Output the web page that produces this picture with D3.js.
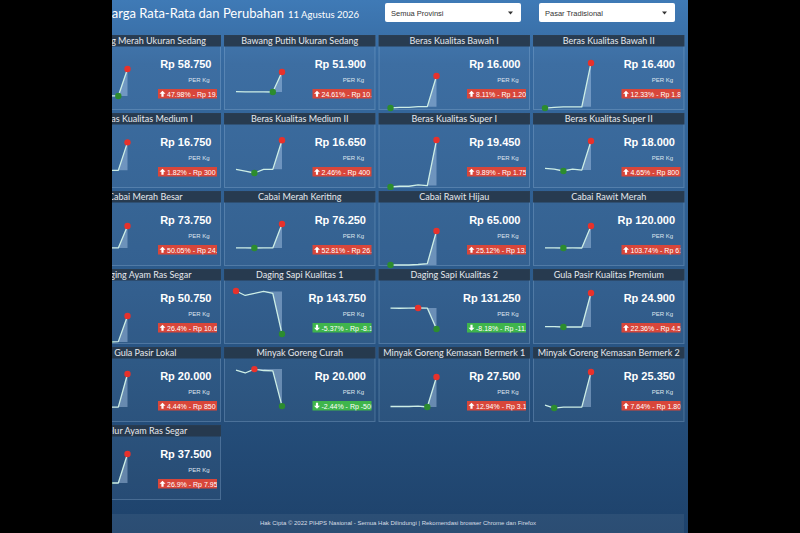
<!DOCTYPE html>
<html>
<head>
<meta charset="utf-8">
<script src="https://cdn.jsdelivr.net/npm/d3@7"></script>
<style>
  html, body { margin: 0; padding: 0; background: #000; }
  svg { display: block; }
</style>
</head>
<body>
<div class="canvas"></div>
<script>
// commodity names, in grid order
const names = [
  'Bawang Merah Ukuran Sedang', 'Bawang Putih Ukuran Sedang', 'Beras Kualitas Bawah I', 'Beras Kualitas Bawah II',
  'Beras Kualitas Medium I', 'Beras Kualitas Medium II', 'Beras Kualitas Super I', 'Beras Kualitas Super II',
  'Cabai Merah Besar', 'Cabai Merah Keriting', 'Cabai Rawit Hijau', 'Cabai Rawit Merah',
  'Daging Ayam Ras Segar', 'Daging Sapi Kualitas 1', 'Daging Sapi Kualitas 2', 'Gula Pasir Kualitas Premium',
  'Gula Pasir Lokal', 'Minyak Goreng Curah', 'Minyak Goreng Kemasan Bermerk 1', 'Minyak Goreng Kemasan Bermerk 2',
  'Telur Ayam Ras Segar'
];

// current price (Rp per Kg)
const prices = [58750, 51900, 16000, 16400, 16750, 16650, 19450, 18000, 73750, 76250, 65000, 120000,
  50750, 143750, 131250, 24900, 20000, 20000, 27500, 25350, 37500];

// change vs previous, percent and rupiah
const changePct = [47.98, 24.61, 8.11, 12.33, 1.82, 2.46, 9.89, 4.65, 50.05, 52.81, 25.12, 103.74,
  26.4, -5.37, -8.18, 22.36, 4.44, -2.44, 12.94, 7.64, 26.9];
const changeRp = [19050, 10250, 1200, 1800, 300, 400, 1750, 800, 24600, 26350, 13050, 61100,
  10600, -8150, -11700, 4550, 850, -500, 3150, 1800, 7950];

// sparkline history, last value = current price
const series = [
  [40000, 39900, 39800, 39750, 39700, 58750],
  [41800, 41750, 41700, 41700, 41650, 51900],
  [14750, 14775, 14775, 14800, 14800, 16000],
  [14550, 14575, 14600, 14600, 14600, 16400],
  [16400, 16450, 16450, 16450, 16450, 16750],
  [16250, 16225, 16200, 16250, 16250, 16650],
  [17650, 17675, 17675, 17725, 17700, 19450],
  [17250, 17225, 17175, 17225, 17200, 18000],
  [49100, 49150, 49150, 49150, 49150, 73750],
  [50000, 49950, 49850, 49950, 49900, 76250],
  [51400, 51450, 51400, 51600, 51950, 65000],
  [59000, 58950, 58850, 58950, 58900, 120000],
  [40100, 40050, 40050, 40000, 40150, 50750],
  [152400, 151500, 151900, 152300, 151900, 143750],
  [142900, 142850, 142900, 143000, 142950, 131250],
  [20400, 20400, 20350, 20350, 20350, 24900],
  [19150, 19200, 19200, 19150, 19150, 20000],
  [20510, 20470, 20525, 20505, 20500, 20000],
  [24400, 24400, 24400, 24450, 24350, 27500],
  [23650, 23500, 23550, 23550, 23550, 25350],
  [29600, 29650, 29600, 29550, 29550, 37500]
];

// sparkline value range per card (chart range min / max, in Rp)
const rangeMin = [29100, 31900, 14630, 14430, 16250, 15980, 17570, 16680, 27820, 28950, 50600, 6040,
  38760, 141540, 122300, 17940, 18740, 19760, 22670, 22730, 24620];
const rangeMax = [68600, 60600, 16820, 16730, 16850, 16750, 19720, 18220, 90550, 90550, 73000, 161700,
  61900, 152800, 153630, 25435, 20180, 20555, 28550, 25610, 39970];

const titleText = 'Harga Rata-Rata dan Perubahan';
const dateText = '11 Agustus 2026';
const dropdowns = ['Semua Provinsi', 'Pasar Tradisional'];
const unitText = 'PER Kg';
const footerText = 'Hak Cipta \u00A9 2022 PIHPS Nasional - Semua Hak Dilindungi | Rekomendasi browser Chrome dan Firefox';

const width = 800, height = 533;
const id = d3.formatLocale({decimal: ',', thousands: '.', grouping: [3], currency: ['Rp ', ''], minus: '-'});
const fmt = id.format(',d');

const svg = d3.select('.canvas')
  .append('svg')
  .attr('width', width)
  .attr('height', height);

const defs = svg.append('defs');
const bg = defs.append('linearGradient').attr('id', 'bg')
  .attr('x1', 0).attr('y1', 0).attr('x2', 0).attr('y2', 1);
bg.append('stop').attr('offset', '0%').attr('stop-color', '#3f7ab6');
bg.append('stop').attr('offset', '12%').attr('stop-color', '#36699f');
bg.append('stop').attr('offset', '55%').attr('stop-color', '#2c5a8a');
bg.append('stop').attr('offset', '100%').attr('stop-color', '#1e426b');

svg.append('rect').attr('width', width).attr('height', height).attr('fill', 'url(#bg)');

// header
svg.append('text')
  .attr('x', 102).attr('y', 18)
  .attr('fill', '#fff')
  .style('font', '13px Lato, sans-serif')
  .text(titleText)
  .append('tspan')
  .attr('dx', 4)
  .style('font-size', '9.5px')
  .text(dateText);

const dd = svg.selectAll('g.dd')
  .data(dropdowns)
  .join('g')
  .attr('class', 'dd')
  .attr('transform', (d, i) => `translate(${385 + i * 154},3)`);
dd.append('rect').attr('width', 136).attr('height', 19).attr('rx', 2).attr('fill', '#fff');
dd.append('text').attr('x', 6).attr('y', 12.5).attr('fill', '#333')
  .style('font', '7.5px "Liberation Sans", Arial, sans-serif').text(d => d);
dd.append('path').attr('d', 'M123,8.5 L128,8.5 L125.5,11.5 Z').attr('fill', '#333');

// card grid
const cols = 4, cardW = 151.5, cardH = 75;
const colX = d3.scaleLinear().domain([0, 1]).range([69.5, 224]);
const rowY = d3.scaleLinear().domain([0, 1]).range([35, 113]);

const cards = svg.selectAll('g.card')
  .data(names)
  .join('g')
  .attr('class', 'card')
  .attr('transform', (d, i) => `translate(${colX(i % cols)},${rowY(Math.floor(i / cols))})`);

cards.append('rect')
  .attr('x', 0.5).attr('y', 0.5)
  .attr('width', cardW - 1).attr('height', cardH - 1)
  .attr('fill', 'rgba(255,255,255,0.035)')
  .attr('stroke', 'rgba(170,200,235,0.28)');

cards.append('rect')
  .attr('width', cardW).attr('height', 11.5)
  .attr('fill', '#26374a').attr('opacity', 0.92);

cards.append('text')
  .attr('x', cardW / 2).attr('y', 8.8)
  .attr('text-anchor', 'middle')
  .attr('fill', '#e6e9ee')
  .style('font', '9px Lato, sans-serif')
  .text(d => d);

// sparklines
cards.each(function (name, i) {
  const g = d3.select(this);
  const v = series[i];
  const n = v.length;
  const x = d3.scaleLinear().domain([0, n - 1]).range([12, 58]);
  const y = d3.scaleLinear().domain([rangeMin[i], rangeMax[i]]).range([76, 20]);

  // shade the final move, back to where the last run started
  const dir = Math.sign(v[n - 1] - v[n - 2]);
  let k = n - 2;
  while (k > 0 && Math.sign(v[k] - v[k - 1]) === dir) k--;
  const tail = v.map((d, j) => [j, d]).slice(k);

  g.append('path')
    .attr('d', d3.area().x(d => x(d[0])).y0(y(v[k])).y1(d => y(d[1]))(tail))
    .attr('fill', 'rgba(185,212,242,0.42)');

  g.append('path')
    .attr('d', d3.line().x((d, j) => x(j)).y(d => y(d))(v))
    .attr('fill', 'none')
    .attr('stroke', '#cdeee6')
    .attr('stroke-width', 1.3)
    .attr('stroke-linejoin', 'round');

  const lo = d3.minIndex(v), hi = d3.maxIndex(v);
  g.append('circle').attr('cx', x(lo)).attr('cy', y(v[lo])).attr('r', 3.2).attr('fill', '#2c8c2e');
  g.append('circle').attr('cx', x(hi)).attr('cy', y(v[hi])).attr('r', 3.2).attr('fill', '#e8312b');

  // price block
  g.append('text')
    .attr('x', 142).attr('y', 33)
    .attr('text-anchor', 'end')
    .attr('fill', '#fff')
    .style('font', 'bold 11px "Liberation Sans", Arial, sans-serif')
    .text('Rp ' + fmt(prices[i]));

  g.append('text')
    .attr('x', 140).attr('y', 47)
    .attr('text-anchor', 'end')
    .attr('fill', '#dfe6ee')
    .style('font', '6px "Liberation Sans", Arial, sans-serif')
    .text(unitText);

  // change badge, clipped like the original
  const up = changeRp[i] >= 0;
  const right = 147.5;
  const badge = g.append('g');
  const label = badge.append('text')
    .attr('y', 61.5)
    .attr('fill', '#fff')
    .style('font', '7px "Liberation Sans", Arial, sans-serif')
    .text(changePct[i] + '% - Rp ' + fmt(changeRp[i]));
  const bw = Math.min(label.node().getComputedTextLength() + 11, 59);
  const bx = right - bw;
  const clipId = 'clip' + i;
  g.append('clipPath').attr('id', clipId)
    .append('rect').attr('x', bx).attr('y', 54).attr('width', bw).attr('height', 9.5);
  badge.insert('rect', 'text')
    .attr('x', bx).attr('y', 54).attr('width', bw).attr('height', 9.5)
    .attr('fill', up ? '#d8463a' : '#3fb54c');
  label.attr('x', bx + 9).attr('clip-path', `url(#${clipId})`);
  badge.append('path')
    .attr('transform', `translate(${bx + 4.5},58.8) scale(${up ? 1 : -1})`)
    .attr('d', 'M0,-3 L3,0 L1.1,0 L1.1,3 L-1.1,3 L-1.1,0 L-3,0 Z')
    .attr('fill', '#fff');
});

// footer
svg.append('rect')
  .attr('x', 66).attr('y', 514).attr('width', 618).attr('height', 19)
  .attr('fill', 'rgba(255,255,255,0.06)');
svg.append('text')
  .attr('x', 398).attr('y', 525)
  .attr('text-anchor', 'middle')
  .attr('fill', '#d8dee6')
  .style('font', '6px "Liberation Sans", Arial, sans-serif')
  .text(footerText);

// the photo is cropped with black side bands
svg.append('rect').attr('x', 0).attr('width', 112).attr('height', height).attr('fill', '#000');
svg.append('rect').attr('x', 688).attr('width', 112).attr('height', height).attr('fill', '#000');
</script>
</body>
</html>
